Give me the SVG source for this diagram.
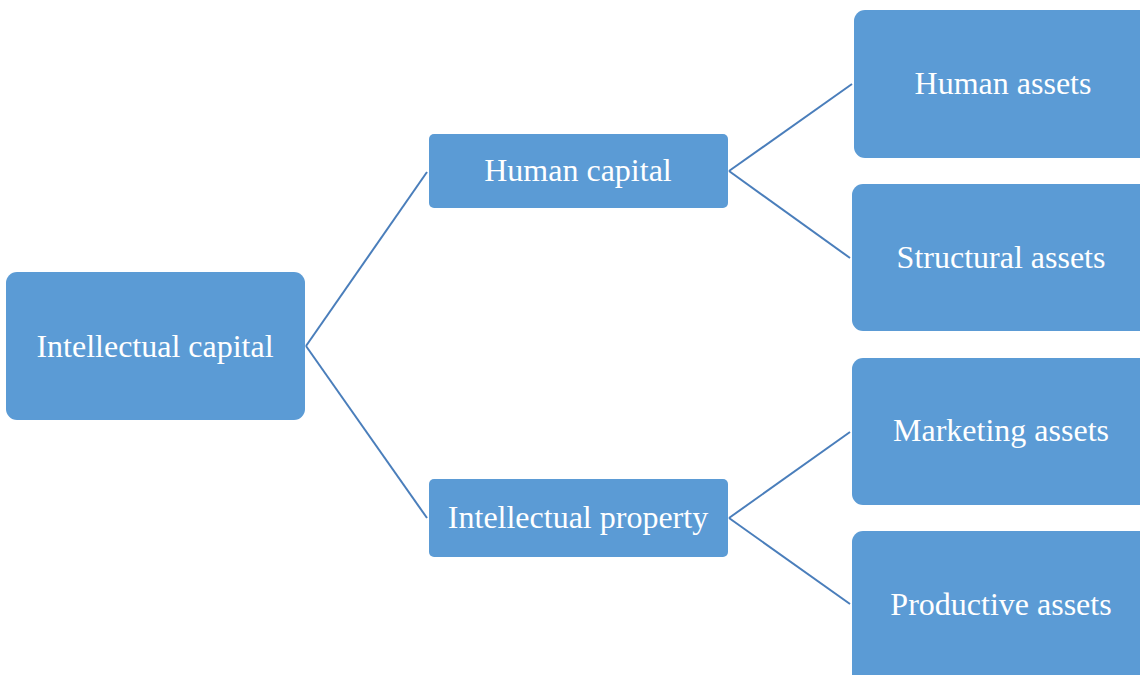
<svg xmlns="http://www.w3.org/2000/svg" width="1140" height="675" viewBox="0 0 1140 675">
<style>
.box{fill:#5B9BD5;}
.lbl{font-family:"Liberation Serif","Times New Roman",serif;font-size:32px;fill:#FFFFFF;text-anchor:middle;}
.conn line{stroke:#4A7EBB;stroke-width:2;fill:none;}
</style>
<rect width="1140" height="675" fill="#FFFFFF"/>
<g id="connectors" class="conn">
<line x1="306" y1="346" x2="427" y2="172"/>
<line x1="306" y1="346" x2="427" y2="518"/>
<line x1="729" y1="171" x2="852" y2="84"/>
<line x1="729" y1="171" x2="850" y2="258"/>
<line x1="729" y1="518" x2="850" y2="432"/>
<line x1="729" y1="518" x2="850" y2="604"/>
</g>
<g id="intellectual-capital"><rect class="box" x="6" y="272" width="299" height="148" rx="11"/><text class="lbl" x="155" y="357">Intellectual capital</text></g>
<g id="human-capital"><rect class="box" x="429" y="134" width="299" height="74" rx="5"/><text class="lbl" x="578" y="181">Human capital</text></g>
<g id="intellectual-property"><rect class="box" x="429" y="479" width="299" height="78" rx="5"/><text class="lbl" x="578" y="528">Intellectual property</text></g>
<g id="human-assets"><rect class="box" x="854" y="10" width="300" height="148" rx="11"/><text class="lbl" x="1003" y="94">Human assets</text></g>
<g id="structural-assets"><rect class="box" x="852" y="184" width="302" height="147" rx="11"/><text class="lbl" x="1001" y="268">Structural assets</text></g>
<g id="marketing-assets"><rect class="box" x="852" y="358" width="302" height="147" rx="11"/><text class="lbl" x="1001" y="441">Marketing assets</text></g>
<g id="productive-assets"><rect class="box" x="852" y="531" width="302" height="160" rx="11"/><text class="lbl" x="1001" y="615">Productive assets</text></g>
</svg>
